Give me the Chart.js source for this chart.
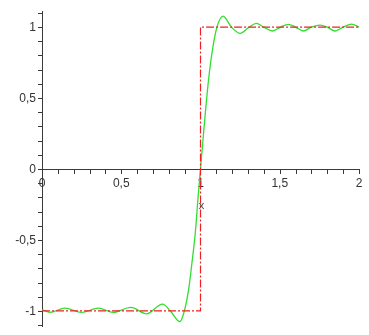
<!DOCTYPE html>
<html>
<head>
<meta charset="utf-8">
<script src="https://cdn.jsdelivr.net/npm/chart.js@4.4.1/dist/chart.umd.min.js"></script>
<style>
  html, body { margin: 0; padding: 0; background: #fff; }
  #wrap { width: 369px; height: 335px; }
</style>
</head>
<body>
<div id="wrap"><canvas id="plot"></canvas></div>
<script>
// step function (red)
const stepX = [0, 1, 1, 2];
const stepY = [-1, -1, 1, 1];

// partial Fourier sum (green)
const approxX = [0, 0.05, 0.145, 0.25, 0.355, 0.45, 0.56, 0.66, 0.76, 0.81, 0.87, 0.898, 0.925, 0.944, 0.968, 0.984,
  1.0, 1.016, 1.034, 1.056, 1.077, 1.104, 1.142, 1.195, 1.25, 1.308, 1.352, 1.398, 1.455, 1.505, 1.554, 1.60, 1.649,
  1.70, 1.754, 1.80, 1.849, 1.90, 1.954, 2.0];
const approxY = [-0.99, -1.01, -0.98, -1.01, -0.98, -1.01, -0.975, -1.02, -0.952, -1.0, -1.075, -1.0, -0.85, -0.68, -0.44, -0.21,
  0, 0.21, 0.44, 0.68, 0.85, 1.0, 1.077, 1.0, 0.955, 1.0, 1.026, 1.0, 0.972, 1.0, 1.019, 1.0, 0.972,
  1.0, 1.014, 1.0, 0.972, 1.0, 1.021, 1.0];

// axes
const xTickValues = [0, 0.5, 1, 1.5, 2];
const xTickLabels = ['0', '0,5', '1', '1,5', '2'];
const yTickValues = [-1, -0.5, 0, 0.5, 1];
const yTickLabels = ['-1', '-0,5', '0', '0,5', '1'];
const minorStep = 0.1;
const axisName = 'x';

const toPoints = (xs, ys) => xs.map((x, i) => ({ x: x, y: ys[i] }));

const axesPlugin = {
  id: 'mapleAxes',
  beforeDatasetsDraw(chart) {
    const { ctx, scales: { x, y } } = chart;
    const x0 = x.getPixelForValue(0);
    const y0 = y.getPixelForValue(0);
    ctx.save();
    ctx.strokeStyle = '#3a3a3a';
    ctx.lineWidth = 1;
    ctx.beginPath();
    // x axis
    ctx.moveTo(x.left, Math.round(y0) + 0.5);
    ctx.lineTo(x.right, Math.round(y0) + 0.5);
    // y axis
    ctx.moveTo(Math.round(x0) + 0.5, y.top);
    ctx.lineTo(Math.round(x0) + 0.5, y.bottom);
    // minor ticks
    for (let v = x.min; v <= x.max + 1e-9; v += minorStep) {
      const px = Math.round(x.getPixelForValue(v)) + 0.5;
      ctx.moveTo(px, y0);
      ctx.lineTo(px, y0 + 5);
    }
    for (let k = Math.ceil(y.min / minorStep); k * minorStep <= y.max; k++) {
      const py = Math.round(y.getPixelForValue(k * minorStep)) + 0.5;
      ctx.moveTo(x0 - 4, py);
      ctx.lineTo(x0, py);
    }
    ctx.stroke();

    ctx.fillStyle = '#333';
    ctx.font = '12px "Liberation Sans", Arial, sans-serif';
    ctx.textBaseline = 'middle';
    ctx.textAlign = 'center';
    xTickValues.forEach((v, i) => {
      ctx.fillText(xTickLabels[i], x.getPixelForValue(v), y0 + 15);
    });
    ctx.textAlign = 'right';
    yTickValues.forEach((v, i) => {
      ctx.fillText(yTickLabels[i], x0 - 6, y.getPixelForValue(v) + 0.5);
    });
    ctx.restore();
  },
  afterDatasetsDraw(chart) {
    const { ctx, scales: { x, y } } = chart;
    ctx.save();
    ctx.fillStyle = '#444';
    ctx.font = '11px "Liberation Sans", Arial, sans-serif';
    ctx.textAlign = 'center';
    ctx.textBaseline = 'middle';
    ctx.fillText(axisName, x.getPixelForValue(1) + 1, y.getPixelForValue(0) + 37);
    ctx.restore();
  }
};

new Chart(document.getElementById('plot'), {
  type: 'scatter',
  data: {
    datasets: [
      {
        data: toPoints(stepX, stepY),
        showLine: true,
        borderColor: '#ee2020',
        borderWidth: 1.2,
        borderDash: [8, 2, 2, 2],
        pointRadius: 0,
        tension: 0
      },
      {
        data: toPoints(approxX, approxY),
        showLine: true,
        borderColor: '#33dd33',
        borderWidth: 1.3,
        pointRadius: 0,
        cubicInterpolationMode: 'monotone'
      }
    ]
  },
  options: {
    responsive: true,
    maintainAspectRatio: false,
    animation: false,
    events: [],
    layout: { padding: { left: 42, right: 10, top: 11, bottom: 8 } },
    scales: {
      x: { type: 'linear', min: 0, max: 2, display: false },
      y: { type: 'linear', min: -1.113, max: 1.113, display: false }
    },
    plugins: {
      legend: { display: false },
      tooltip: { enabled: false }
    }
  },
  plugins: [axesPlugin]
});
</script>
</body>
</html>
